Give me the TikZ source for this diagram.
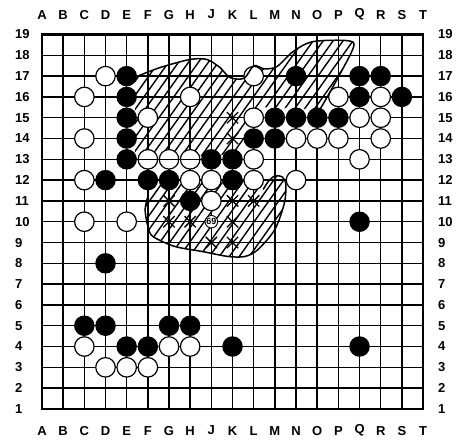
\documentclass[tikz,border=0pt]{standalone}
\usepackage{fontspec}
\setmainfont{Liberation Sans}
\usetikzlibrary{shapes.misc}
\tikzset{wstone/.style={circle,draw,fill=white,line width=1.2pt,minimum size=19.5pt,inner sep=0pt},bstone/.style={circle,fill=black,minimum size=20.5pt,inner sep=0pt},xmark/.style={cross out,draw,line width=1.3pt,minimum size=10pt,inner sep=0pt},hatch/.style={line width=1.4pt},outline/.style={line width=1.5pt},lbl/.style={font=\fontsize{13}{13}\selectfont\bfseries,inner sep=0pt}}
\begin{document}
\begin{tikzpicture}[x=21.17pt,y=20.8pt]
\useasboundingbox (-0.984,-0.731) rectangle (20.745,20.66);
% board
\foreach \i in {1,...,19}{\draw[line width=1.5pt] (\i,1)--(\i,19);\draw[line width=1.5pt] (1,\i)--(19,\i);}
\draw[line width=2.8pt] (1,1) rectangle (19,19);
\foreach \l [count=\i] in {A,B,C,D,E,F,G,H,J,K,L,M,N,O,P,Q,R,S,T}{\node[lbl] (top\l) at (\i,19.96) {\l};\node[lbl] (bot\l) at (\i,-0.04) {\l};}
\foreach \i in {1,...,19}{\node[lbl,anchor=west] (left\i) at (-0.28,\i) {\i};\node[lbl,anchor=west] (right\i) at (19.7,\i) {\i};}
% hatched areas
\begin{scope}
\clip plot[smooth] coordinates {(5.4,16.95) (6.57,17.41) (7.99,17.8) (8.79,17.8) (9.41,17.41) (9.88,16.93) (10.55,16.9) (11,17.5) (11.5,17.35) (12.1,17.46) (12.86,18.18) (13.8,18.66) (15.45,18.7) (15.7,18.35) (14.75,16.5) (14.13,15.4)}--(11.5,15.5)--(10.6,15.2)--(10.55,13.5)--(9.5,13.2)--(5.4,13)--cycle;
\foreach \x in {-4,-3.53,...,11.5}{\draw[hatch] (\x,6)--++(10,14.3);}
\end{scope}
\begin{scope}
\clip plot[smooth] coordinates {(6,11.2) (5.87,10.59) (6,9.77) (6.24,9.29) (7.28,8.81) (8.56,8.57) (9.79,8.33) (10.59,8.33) (11.2,8.66) (12,9.63) (12.45,10.9) (12.52,11.8) (12.35,12.15) (12,12.2) (11.7,11.95) (11.45,11.55)}--(10.5,12.2)--(6.3,12)--cycle;
\foreach \x in {-4,-3.53,...,11.5}{\draw[hatch] (\x,6)--++(10,14.3);}
\end{scope}
% stones
\foreach \c/\r in {4/17,3/16,3/14,3/12,3/10,5/10,6/15,8/16,6/13,7/13,8/13,8/12,9/12,9/11,11/17,11/15,11/13,11/12,13/12,13/14,14/14,15/14,16/15,17/15,17/14,15/16,17/16,16/13,3/4,7/4,8/4,4/3,5/3,6/3}{\node[wstone] (w-\c-\r) at (\c,\r) {};}
\foreach \c/\r in {5/17,5/16,5/15,5/14,5/13,4/12,6/12,7/12,8/11,9/13,10/13,10/12,11/14,12/14,12/15,13/15,14/15,15/15,13/17,16/17,17/17,16/16,18/16,16/10,4/8,3/5,4/5,7/5,8/5,5/4,6/4,10/4,16/4}{\node[bstone] (b-\c-\r) at (\c,\r) {};}
\node[circle,draw,fill=white,line width=0.9pt,minimum size=12.5pt,inner sep=0pt,font=\fontsize{9}{9}\selectfont\bfseries] (s69) at (9,10) {69};
\foreach \c/\r in {10/15,10/14,7/11,7/10,8/10,9/9,10/9,10/10,10/11,11/11}{\node[xmark] (x-\c-\r) at (\c,\r) {};}
% outlines
\draw[outline] plot[smooth] coordinates {(5.4,16.95) (6.57,17.41) (7.99,17.8) (8.79,17.8) (9.41,17.41) (9.88,16.93) (10.55,16.9) (11,17.5) (11.5,17.35) (12.1,17.46) (12.86,18.18) (13.8,18.66) (15.45,18.7) (15.7,18.35) (14.75,16.5) (14.13,15.4)};
\draw[outline] (w-6-13.west)--(w-8-13.east);
\draw[outline] plot[smooth] coordinates {(6,11.2) (5.87,10.59) (6,9.77) (6.24,9.29) (7.28,8.81) (8.56,8.57) (9.79,8.33) (10.59,8.33) (11.2,8.66) (12,9.63) (12.45,10.9) (12.52,11.8) (12.35,12.15) (12,12.2) (11.7,11.95) (11.45,11.55)};
\end{tikzpicture}
\end{document}
